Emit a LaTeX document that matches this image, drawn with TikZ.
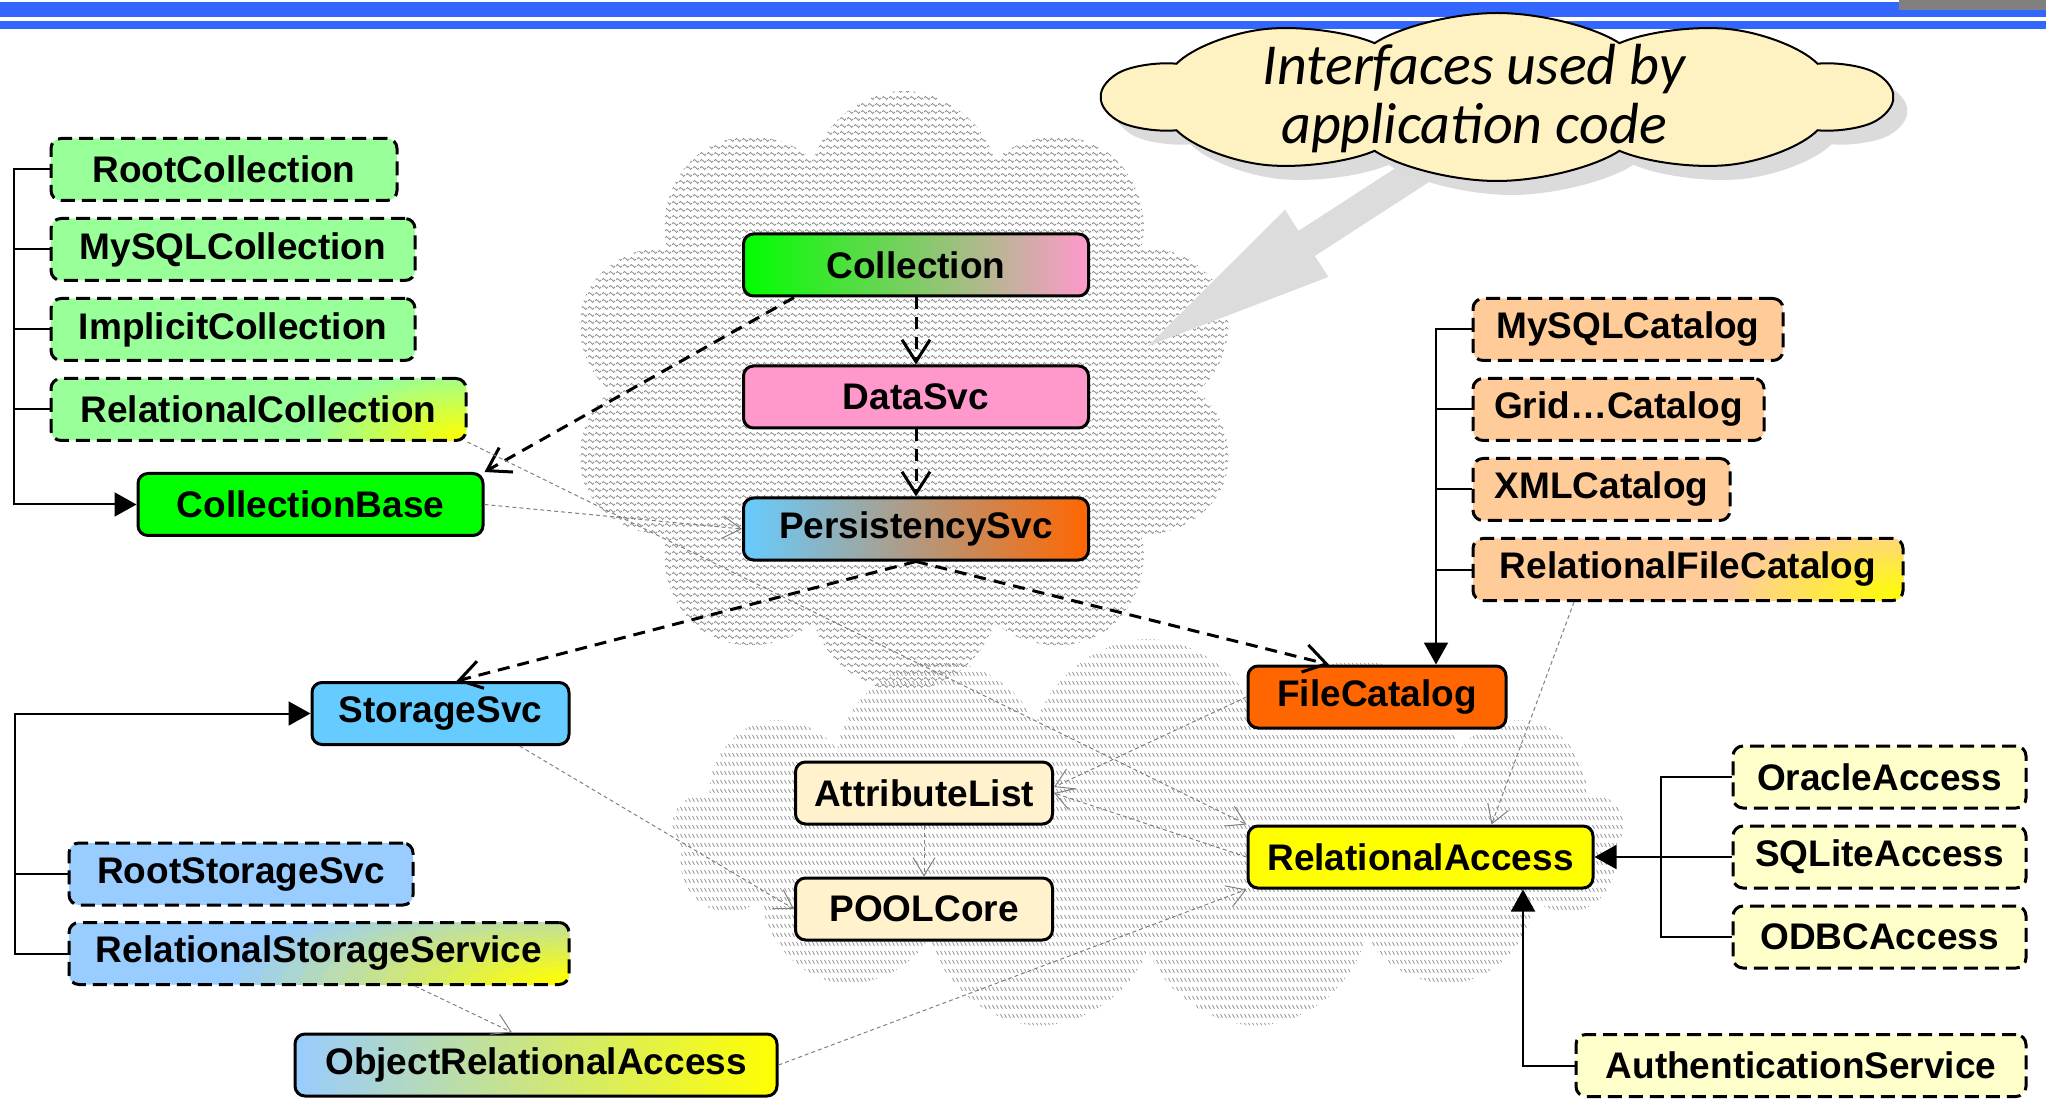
\documentclass[tikz,border=0pt]{standalone}
\definecolor{pool_bar}{RGB}{51, 102, 255}
\definecolor{pool_green}{RGB}{153, 255, 153}
\definecolor{pool_lime}{RGB}{0, 255, 0}
\definecolor{pool_pink}{RGB}{255, 153, 204}
\definecolor{pool_sky}{RGB}{102, 204, 255}
\definecolor{pool_blue}{RGB}{153, 204, 255}
\definecolor{pool_orange}{RGB}{255, 102, 0}
\definecolor{pool_peach}{RGB}{255, 204, 153}
\definecolor{pool_yellow}{RGB}{255, 255, 0}
\definecolor{pool_cream}{RGB}{255, 242, 204}
\definecolor{pool_pale}{RGB}{255, 255, 204}
\definecolor{pool_callout}{RGB}{255, 242, 194}
\definecolor{pool_arrow}{RGB}{220, 220, 220}
\usepackage{fontspec}
\setmainfont{Liberation Sans}
\newfontfamily\calloutfont{Carlito}
\usepackage{tikz}
\usetikzlibrary{arrows.meta, positioning, shapes.symbols, patterns}
\pgfdeclarepatternformonly{zigzag}{\pgfqpoint{0pt}{0pt}}{\pgfqpoint{3.5pt}{3.5pt}}{\pgfqpoint{3.5pt}{3.5pt}}{
  \pgfsetlinewidth{0.5pt}
  \pgfpathmoveto{\pgfqpoint{0pt}{1.2pt}}
  \pgfpathlineto{\pgfqpoint{0.875pt}{2pt}}
  \pgfpathlineto{\pgfqpoint{2.625pt}{0.4pt}}
  \pgfpathlineto{\pgfqpoint{3.5pt}{1.2pt}}
  \pgfusepath{stroke}}
\pgfdeclarepatternformonly{hatchrow}{\pgfqpoint{0pt}{0pt}}{\pgfqpoint{2pt}{4.5pt}}{\pgfqpoint{2pt}{4.5pt}}{
  \pgfsetlinewidth{0.5pt}
  \pgfpathmoveto{\pgfqpoint{0.3pt}{3.3pt}}
  \pgfpathlineto{\pgfqpoint{1.5pt}{1.2pt}}
  \pgfusepath{stroke}}

\begin{document}
\begin{tikzpicture}[x=0.5pt, y=-0.5pt,
        box/.style={rectangle, rounded corners=5pt, draw=black, line width=1.5pt,
                    minimum height=31pt, inner sep=0pt,
                    font=\fontsize{18.5}{20}\selectfont\bfseries},
        impl/.style={box, dash pattern=on 7pt off 3.5pt},
        glow/.style n args={3}{fill=#1,
                    path picture={\foreach \k in {1,...,16}{
                      \pgfmathtruncatemacro\p{100*\k/16}
                      \fill[pool_yellow!\p!#1] (path picture bounding box.south east)
                        ellipse ({#2*(17-\k)/16} and {#3*(17-\k)/16});}}},
        puffy/.style={cloud, transform shape, cloud puffs=10, cloud puff arc=105,
                    cloud ignores aspect, minimum width=197pt, minimum height=84pt},
        dep/.style={line width=1.5pt, dash pattern=on 6pt off 4pt,
                    -{Straight Barb[length=11pt, width=14pt]}},
        use/.style={draw=black!50, line width=0.5pt, dash pattern=on 2pt off 1.5pt,
                    -{Straight Barb[length=9pt, width=11pt]}},
        inh/.style={line width=1pt, -{Triangle[length=11pt, width=12pt]}},
        bus/.style={line width=1pt},
      ]
        \useasboundingbox (0,0) rectangle (2046,1101);

        % title bars
        \fill[pool_bar] (0,2) rectangle (2046,17);
        \fill[pool_bar] (0,21.5) rectangle (2046,29);
        \fill[black!50] (1899,0) rectangle (2046,10);

        % background clouds
        \node[cloud, cloud puffs=13, cloud ignores aspect, minimum width=476pt,
              minimum height=196pt, pattern=hatchrow, pattern color=black!42]
          (corecloud) at (1148,835) {};
        \node[cloud, cloud puffs=10, cloud ignores aspect, minimum width=336pt,
              minimum height=300pt, pattern=zigzag, pattern color=black!42]
          (appcloud) at (904,391) {};

        % callout
        \fill[pool_arrow] (1433.1,179.4) -- (1314.8,256.0) -- (1328.4,277.0)
          -- (1148,346) -- (1285.0,209.8) -- (1298.6,230.8) -- (1416.9,154.2) -- cycle;
        \begin{scope}[shift={(1497,97)}, xscale=2]
          \node[puffy, fill=black!14] (calloutshadow) at (7,14) {};
          \node[puffy, draw, line width=1pt, fill=pool_callout] (callout) at (0,0) {};
        \end{scope}
        \node[align=center, font=\calloutfont\itshape\fontsize{29}{29.5}\selectfont]
          (callouttext) at (1474,99) {Interfaces used by\\application code};

        % collections
        \node[impl, fill=pool_green, anchor=west, minimum width=173pt] (rootcol) at (49.5,169.5) {RootCollection};
        \node[impl, fill=pool_green, anchor=west, minimum width=182pt] (mysqlcol) at (49.5,249.5) {MySQLCollection};
        \node[impl, fill=pool_green, anchor=west, minimum width=182pt] (implcol) at (49.5,329.5) {ImplicitCollection};
        \node[impl, glow={pool_green}{75pt}{34pt}, anchor=west, minimum width=207.5pt] (relcol) at (49.5,409.5) {RelationalCollection};
        \node[box, fill=pool_lime, anchor=west, minimum width=172.5pt] (colbase) at (136.5,504.5) {CollectionBase};

        % application interfaces
        \node[box, left color=pool_lime, right color=pool_pink, minimum width=172.5pt] (coll) at (916,265) {Collection};
        \node[box, fill=pool_pink, minimum width=172.5pt, below=33.5pt of coll] (datasvc) {DataSvc};
        \node[box, left color=pool_sky, right color=pool_orange, minimum width=172.5pt, below=33.5pt of datasvc] (perssvc) {PersistencySvc};

        % catalogs
        \node[impl, fill=pool_peach, anchor=west, minimum width=155pt] (mysqlcat) at (1471.5,329.5) {MySQLCatalog};
        \node[impl, fill=pool_peach, anchor=west, minimum width=145.5pt] (gridcat) at (1471.5,409.5) {Grid\ldots Catalog};
        \node[impl, fill=pool_peach, anchor=west, minimum width=128.5pt] (xmlcat) at (1471.5,489.5) {XMLCatalog};
        \node[impl, glow={pool_peach}{85pt}{38pt}, anchor=west, minimum width=215pt] (relfilecat) at (1471.5,569.5) {RelationalFileCatalog};
        \node[box, fill=pool_orange, anchor=west, minimum width=129pt] (filecat) at (1246.5,697) {FileCatalog};

        % core
        \node[box, fill=pool_cream, minimum width=128.5pt] (attrlist) at (924,793) {AttributeList};
        \node[box, fill=pool_cream, minimum width=128.5pt, below=25.5pt of attrlist] (poolcore) {POOLCore};
        \node[box, fill=pool_yellow, anchor=west, minimum width=172.5pt] (relacc) at (1246.5,857) {RelationalAccess};

        % relational plugins
        \node[impl, fill=pool_pale, anchor=west, minimum width=146.5pt] (oracle) at (1731.5,777) {OracleAccess};
        \node[impl, fill=pool_pale, anchor=west, minimum width=146.5pt] (sqlite) at (1731.5,857) {SQLiteAccess};
        \node[impl, fill=pool_pale, anchor=west, minimum width=146.5pt] (odbc) at (1731.5,937) {ODBCAccess};
        \node[impl, fill=pool_pale, anchor=west, minimum width=225pt] (auth) at (1574.5,1065.5) {AuthenticationService};

        % storage
        \node[box, fill=pool_sky, anchor=west, minimum width=128.5pt] (storsvc) at (310.5,713.5) {StorageSvc};
        \node[impl, fill=pool_blue, anchor=west, minimum width=172pt] (rootstor) at (67.5,874) {RootStorageSvc};
        \node[impl, glow={pool_blue}{165pt}{48pt}, anchor=west, minimum width=250pt] (relstor) at (67.5,953.5) {RelationalStorageService};
        \node[box, left color=pool_blue, right color=pool_yellow, anchor=west, minimum width=241pt] (objrel) at (293.5,1065) {ObjectRelationalAccess};

        % buses
        \coordinate (colbus) at (14,0);
        \coordinate (catbus) at (1436,0);
        \coordinate (storbus) at (15,0);
        \coordinate (accbus) at (1661,0);
        \coordinate (authbus) at (1523,0);

        \draw[inh] (rootcol.west) -| (colbus |- colbase.west) -- (colbase.west);
        \foreach \n in {mysqlcol, implcol, relcol}
          \draw[bus] (\n.west) -- (\n.west -| colbus);
        \draw[inh] (mysqlcat.west) -| (catbus |- filecat.north);
        \foreach \n in {gridcat, xmlcat, relfilecat}
          \draw[bus] (\n.west) -- (\n.west -| catbus);
        \draw[inh] (relstor.west) -| (storbus |- storsvc.west) -- (storsvc.west);
        \draw[bus] (rootstor.west) -- (rootstor.west -| storbus);
        \draw[bus] (oracle.west) -| (accbus |- odbc.west) -- (odbc.west);
        \draw[inh] (sqlite.west) -- (relacc.east);
        \draw[inh] (auth.west) -| (authbus |- relacc.south);

        % interface dependencies
        \draw[dep] ([xshift=26pt]coll.south west) -- (colbase.north east);
        \draw[dep] (coll.south) -- (datasvc.north);
        \draw[dep] (datasvc.south) -- (perssvc.north);
        \draw[dep] (perssvc.south) -- ([xshift=8pt]storsvc.north);
        \draw[dep] (perssvc.south) -- ([xshift=-24pt]filecat.north);

        % implementation dependencies
        \draw[use] (relcol.south east) -- (relacc.north west);
        \draw[use] (colbase.east) -- (perssvc.west);
        \draw[use] (filecat.west) -- ([yshift=3pt]attrlist.east);
        \draw[use] (relacc.west) -- (attrlist.east);
        \draw[use] (attrlist.south) -- (poolcore.north);
        \draw[use] ([xshift=39.5pt]storsvc.south) -- (poolcore.west);
        \draw[use] ([xshift=48pt]relstor.south) -- ([xshift=-12pt]objrel.north);
        \draw[use] (objrel.east) -- (relacc.south west);
        \draw[use] ([xshift=-57pt]relfilecat.south) -- ([xshift=35.5pt]relacc.north);
      \end{tikzpicture}
\end{document}
